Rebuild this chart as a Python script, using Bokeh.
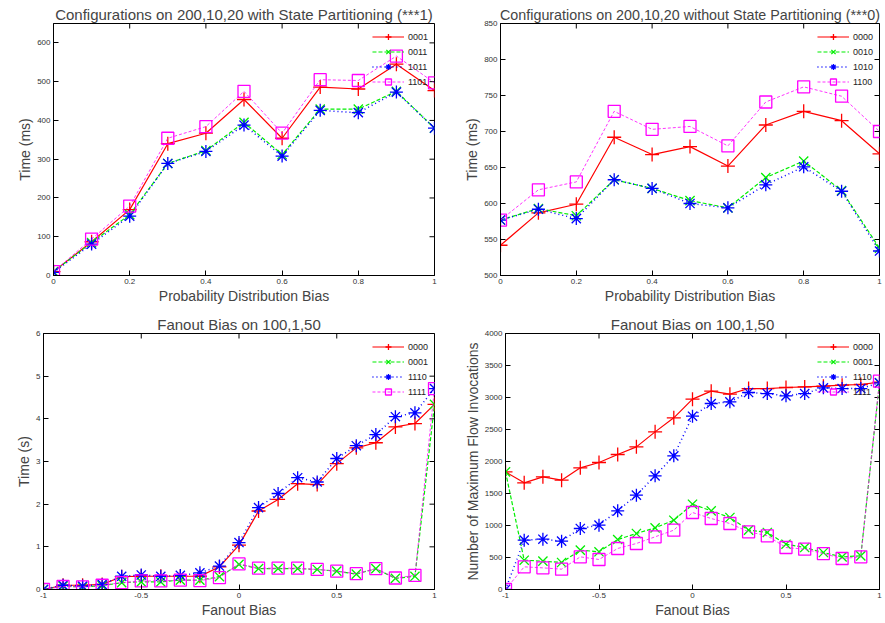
import math
from bokeh.plotting import figure
from bokeh.layouts import row, column
from bokeh.models import Range1d, FixedTicker, NumeralTickFormatter
from bokeh.embed import file_html
from bokeh.resources import INLINE

FONT = "Liberation Sans"

# ---------------- data ----------------
x_prob = [0.0, 0.1, 0.2, 0.3, 0.4, 0.5, 0.6, 0.7, 0.8, 0.9, 1.0]
x_fan = [-1.0, -0.9, -0.8, -0.7, -0.6, -0.5, -0.4, -0.3, -0.2, -0.1, 0.0,
         0.1, 0.2, 0.3, 0.4, 0.5, 0.6, 0.7, 0.8, 0.9, 1.0]

tl_labels = ["0001", "0011", "1011", "1101"]
tl_0001 = [10, 87, 170, 340, 367, 454, 354, 486, 481, 545, 477]
tl_0011 = [10, 85, 157, 289, 322, 395, 312, 429, 429, 475, 380]
tl_1011 = [8, 81, 153, 289, 320, 388, 308, 426, 420, 473, 380]
tl_1101 = [10, 94, 179, 354, 384, 475, 367, 505, 503, 566, 497]

tr_labels = ["0000", "0010", "1010", "1100"]
tr_0000 = [542, 587, 599, 692, 668, 679, 652, 709, 728, 715, 669]
tr_0010 = [577, 593, 583, 633, 621, 604, 594, 636, 659, 618, 538]
tr_1010 = [577, 592, 579, 633, 621, 600, 594, 626, 651, 617, 534]
tr_1100 = [577, 619, 630, 728, 703, 707, 680, 741, 762, 749, 700]

bl_labels = ["0000", "0001", "1110", "1111"]
bl_0000 = [0, 0.1, 0.1, 0.12, 0.3, 0.31, 0.31, 0.31, 0.31, 0.53, 1.04,
           1.84, 2.11, 2.48, 2.46, 2.95, 3.32, 3.44, 3.81, 3.89, 4.34]
bl_0001 = [0, 0.08, 0.06, 0.09, 0.16, 0.18, 0.18, 0.22, 0.22, 0.3, 0.59,
           0.49, 0.49, 0.49, 0.47, 0.43, 0.36, 0.49, 0.26, 0.31, 4.34]
bl_1110 = [0, 0.1, 0.08, 0.12, 0.31, 0.34, 0.31, 0.33, 0.39, 0.55, 1.1,
           1.92, 2.25, 2.62, 2.52, 3.07, 3.37, 3.63, 4.05, 4.14, 4.71]
bl_1111 = [0, 0.07, 0.06, 0.1, 0.16, 0.2, 0.2, 0.22, 0.21, 0.28, 0.6,
           0.5, 0.5, 0.5, 0.47, 0.43, 0.37, 0.49, 0.27, 0.33, 4.71]

br_labels = ["0000", "0001", "1110", "1111"]
br_0000 = [1838, 1667, 1760, 1708, 1901, 1984, 2109, 2229, 2463, 2682, 2974,
           3099, 3052, 3140, 3140, 3156, 3166, 3177, 3193, 3203, 3240]
br_0001 = [1838, 458, 443, 422, 615, 589, 781, 875, 963, 1083, 1333,
           1229, 1125, 927, 891, 708, 656, 578, 510, 526, 3229]
br_1110 = [0, 771, 786, 755, 953, 1005, 1229, 1474, 1776, 2088, 2708,
           2906, 2932, 3078, 3062, 3026, 3062, 3151, 3140, 3140, 3229]
br_1111 = [0, 354, 338, 318, 510, 469, 641, 719, 823, 927, 1203,
           1109, 1031, 901, 839, 656, 630, 562, 484, 510, 3255]

ticks_prob = [0, 0.2, 0.4, 0.6, 0.8, 1]
ticks_fan = [-1, -0.5, 0, 0.5, 1]
ticks_tl = [0, 100, 200, 300, 400, 500, 600]
ticks_tr = [500, 550, 600, 650, 700, 750, 800, 850]
ticks_bl = [0, 1, 2, 3, 4, 5, 6]
ticks_br = [0, 500, 1000, 1500, 2000, 2500, 3000, 3500, 4000]

# ---------------- styles ----------------
STYLES = [
    dict(color="#ff0000", dash="solid", marker="cross", lw=1.2, size=14),
    dict(color="#00ee00", dash="4 2", marker="x", lw=1.2, size=13),
    dict(color="#0000ff", dash="1 3", marker="asterisk", lw=1.5, size=13),
    dict(color="#ff00ff", dash="3 2", marker="square", lw=0.8, size=12),
]


def make_fig(title, xlabel, ylabel, xr, yr, xticks, yticks, w, h, bl, br, bt, bb,
             title_size="15px"):
    p = figure(width=w, height=h, output_backend="svg", toolbar_location=None,
               x_range=Range1d(*xr), y_range=Range1d(*yr), title=title,
               x_axis_label=xlabel, y_axis_label=ylabel,
               min_border_left=bl, min_border_right=br,
               min_border_top=bt, min_border_bottom=bb)
    p.xgrid.visible = False
    p.ygrid.visible = False
    p.outline_line_color = "black"
    p.outline_line_width = 1
    p.outline_line_alpha = 1
    p.background_fill_color = "white"
    p.border_fill_color = "white"
    p.title.text_font = FONT
    p.title.text_font_size = title_size
    p.title.text_font_style = "normal"
    p.title.align = "center"
    p.title.standoff = 2
    for ax, tk in ((p.xaxis[0], xticks), (p.yaxis[0], yticks)):
        ax.ticker = FixedTicker(ticks=tk)
        ax.formatter = NumeralTickFormatter(format="0.[0]")
        ax.major_tick_in = 5
        ax.major_tick_out = 0
        ax.minor_tick_line_color = None
        ax.axis_line_color = "black"
        ax.major_tick_line_color = "black"
        ax.major_label_text_font = FONT
        ax.major_label_text_font_size = "8px"
        ax.major_label_text_color = "#333333"
        ax.major_label_standoff = 3
        ax.axis_label_text_font = FONT
        ax.axis_label_text_font_size = "14px"
        ax.axis_label_text_font_style = "normal"
        ax.axis_label_standoff = 1
    # mirrored inward ticks on the top and right frame edges (clipped to the frame)
    p.scatter([xr[1]] * len(yticks), yticks, marker="dash", size=10,
              line_color="black", line_width=1)
    p.scatter(xticks, [yr[1]] * len(xticks), marker="dash", angle=math.pi / 2, size=10,
              line_color="black", line_width=1)
    return p


def add_series(p, x, series, labels):
    for ys, lab, st in zip(series, labels, STYLES):
        p.line(x, ys, line_color=st["color"], line_dash=st["dash"], line_width=st["lw"],
               legend_label=lab)
        p.scatter(x, ys, marker=st["marker"], size=st["size"], line_color=st["color"],
                  fill_color=None, line_width=1.3, legend_label=lab)
    lg = p.legend[0]
    lg.location = "top_right"
    lg.label_text_font = FONT
    lg.label_text_font_size = "9px"
    lg.label_text_color = "#222222"
    lg.glyph_width = 32
    lg.glyph_height = 15
    lg.label_height = 14
    lg.spacing = 0
    lg.padding = 2
    lg.margin = 4
    lg.label_standoff = 4
    lg.background_fill_alpha = 0
    lg.border_line_alpha = 0


p1 = make_fig("Configurations on 200,10,20 with State Partitioning (***1)",
              "Probability Distribution Bias", "Time (ms)",
              (0, 1), (0, 650), ticks_prob, ticks_tl, 445, 306, 53, 11, 23, 27)
add_series(p1, x_prob, [tl_0001, tl_0011, tl_1011, tl_1101], tl_labels)

p2 = make_fig("Configurations on 200,10,20 without State Partitioning (***0)",
              "Probability Distribution Bias", "Time (ms)",
              (0, 1), (500, 850), ticks_prob, ticks_tr, 438, 306, 55, 4, 23, 27,
              title_size="14.3px")
add_series(p2, x_prob, [tr_0000, tr_0010, tr_1010, tr_1100], tr_labels)

p3 = make_fig("Fanout Bias on 100,1,50", "Fanout Bias", "Time (s)",
              (-1, 1), (0, 6), ticks_fan, ticks_bl, 445, 315, 43, 11, 27, 32)
add_series(p3, x_fan, [bl_0000, bl_0001, bl_1110, bl_1111], bl_labels)

p4 = make_fig("Fanout Bias on 100,1,50", "Fanout Bias", "Number of Maximum Flow Invocations",
              (-1, 1), (0, 4000), ticks_fan, ticks_br, 438, 315, 60, 4, 27, 32)
add_series(p4, x_fan, [br_0000, br_0001, br_1110, br_1111], br_labels)

layout = column(row(p1, p2), row(p3, p4))

open("out.html", "w").write(file_html(layout, INLINE))
